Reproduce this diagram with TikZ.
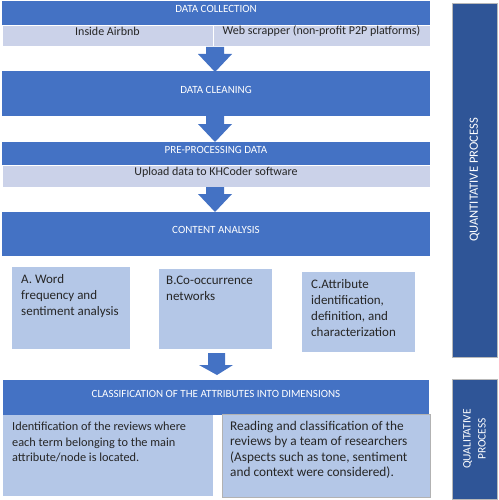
\documentclass[tikz,border=0pt]{standalone}
\usepackage{fontspec}
\setmainfont{Carlito}
\usetikzlibrary{fit}
\definecolor{dblue}{HTML}{4472C4}
\definecolor{lrow}{HTML}{CBD2E9}
\definecolor{lbox}{HTML}{B4C7E7}
\definecolor{navy}{HTML}{2F5597}
\definecolor{txt}{HTML}{262626}
\begin{document}
\begin{tikzpicture}[x=1pt,y=-1pt,
  bar/.style={fill=dblue, draw=none, inner sep=0pt, outer sep=0pt, text=white, font=\fontsize{11}{13}\selectfont},
  subrow/.style={fill=lrow, draw=white, line width=0.6pt, inner sep=0pt, outer sep=0pt, text=txt, font=\fontsize{12}{14}\selectfont},
  lightbox/.style={fill=lbox, draw=none, inner sep=0pt, outer sep=0pt},
  boxtext/.style={anchor=north west, inner sep=0pt, align=left, text=txt, font=\fontsize{13}{16}\selectfont},
  sidebar/.style={fill=navy, draw=gray!55, line width=0.8pt, inner sep=0pt, outer sep=0pt},
  blockarrow/.style={fill=dblue, draw=none}
]
\useasboundingbox (0,0) rectangle (498,500);

% Data collection
\node[bar, fit={(2,1) (430,25)}] (collect) {DATA COLLECTION};
\node[subrow, fit={(2,25) (213,46)}] (airbnb) {Inside Airbnb};
\node[subrow, fit={(213,25) (430,46)}] (web) {Web scrapper (non-profit P2P platforms)};

% arrow 1
\fill[blockarrow] (206,47) -- (224,47) -- (224,54) -- (232,54) -- (215,72) -- (198,54) -- (206,54) -- cycle;

% Data cleaning
\node[bar, fit={(2,71) (430,116)}] (clean) {DATA CLEANING};

% arrow 2
\fill[blockarrow] (206,116) -- (224,116) -- (224,124) -- (232,124) -- (215,142) -- (198,124) -- (206,124) -- cycle;

% Pre-processing
\node[bar, fit={(2,142) (430,165)}] (prep) {PRE-PROCESSING DATA};
\node[subrow, fit={(2,165) (430,187)}] (upload) {Upload data to KHCoder software};

% arrow 3
\fill[blockarrow] (206,187) -- (224,187) -- (224,194) -- (232,194) -- (215,212) -- (198,194) -- (206,194) -- cycle;

% Content analysis
\node[bar, fit={(2,212) (430,256)}] (content) {CONTENT ANALYSIS};

% A, B, C boxes
\node[lightbox, fit={(12,267) (130,349)}] (boxA) {};
\node[boxtext] (textA) at ([shift={(9,7)}]boxA.north west) {A. Word\\frequency and\\sentiment analysis};
\node[lightbox, fit={(159,269) (272,349)}] (boxB) {};
\node[boxtext] (textB) at ([shift={(7,7)}]boxB.north west) {B.Co-occurrence\\networks};
\node[lightbox, fit={(302,272) (415,352)}] (boxC) {};
\node[boxtext] (textC) at ([shift={(9,7)}]boxC.north west) {C.Attribute\\identification,\\definition, and\\characterization};

% arrow 4
\fill[blockarrow] (208,353) -- (225,353) -- (225,365) -- (233,365) -- (217,375) -- (199,365) -- (208,365) -- cycle;

% Classification
\node[bar, fit={(3,380) (429,415)}] (classif) {CLASSIFICATION OF THE ATTRIBUTES INTO DIMENSIONS};
\node[lightbox, fit={(3,415) (213,496)}] (boxL) {};
\node[boxtext, font=\fontsize{12.3}{15.5}\selectfont] (textL) at ([shift={(9,7)}]boxL.north west) {Identification of the reviews where\\each term belonging to the main\\attribute/node is located.};
\node[lightbox, draw=gray!60, line width=0.8pt, fit={(222,414) (430,497)}] (boxR) {};
\node[boxtext, font=\fontsize{13.3}{15.5}\selectfont] (textR) at ([shift={(8,7)}]boxR.north west) {Reading and classification of the\\reviews by a team of researchers\\(Aspects such as tone, sentiment\\and context were considered).};

% side bars
\node[sidebar, fit={(452,3) (497,357)}] (quant) {};
\node[rotate=90, text=white, font=\fontsize{12.6}{15}\selectfont] (quanttext) at (quant.center) {QUANTITATIVE PROCESS};
\node[sidebar, fit={(452,379) (497,499)}] (qual) {};
\node[rotate=90, align=center, text=white, font=\fontsize{11.4}{15}\selectfont] (qualtext) at (qual.center) {QUALITATIVE\\PROCESS};
\end{tikzpicture}
\end{document}
